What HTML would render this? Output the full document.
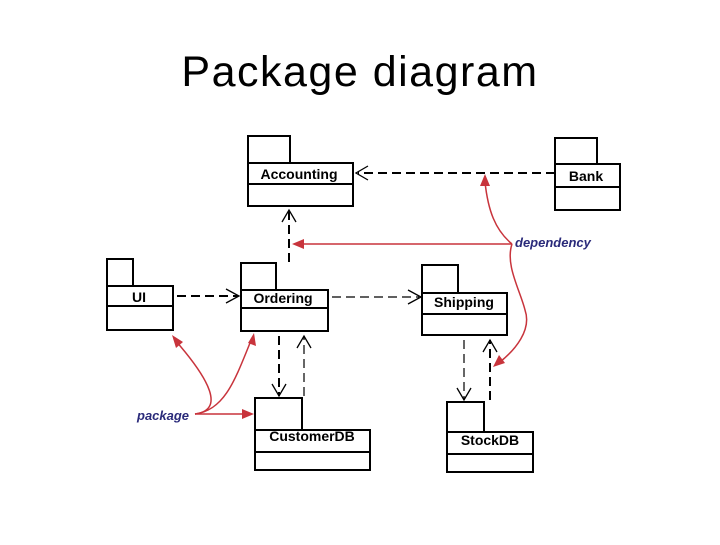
<!DOCTYPE html>
<html><head><style>
body{margin:0;background:#fff;width:720px;height:540px;overflow:hidden}
</style></head><body>
<svg width="720" height="540" xmlns="http://www.w3.org/2000/svg" font-family="Liberation Sans, sans-serif">
<text x="360" y="86" text-anchor="middle" font-size="43" letter-spacing="1.5" fill="#000">Package diagram</text>
<g fill="#fff" stroke="#000" stroke-width="2">
<rect x="248" y="136" width="42" height="27"/><rect x="248" y="163" width="105" height="43"/><line x1="248" y1="184" x2="353" y2="184"/>
<rect x="555" y="138" width="42" height="26"/><rect x="555" y="164" width="65" height="46"/><line x1="555" y1="187" x2="620" y2="187"/>
<rect x="107" y="259" width="26" height="27"/><rect x="107" y="286" width="66" height="44"/><line x1="107" y1="306" x2="173" y2="306"/>
<rect x="241" y="263" width="35" height="27"/><rect x="241" y="290" width="87" height="41"/><line x1="241" y1="308" x2="328" y2="308"/>
<rect x="422" y="265" width="36" height="28"/><rect x="422" y="293" width="85" height="42"/><line x1="422" y1="314" x2="507" y2="314"/>
<rect x="255" y="398" width="47" height="32"/><rect x="255" y="430" width="115" height="40"/><line x1="255" y1="452" x2="370" y2="452"/>
<rect x="447" y="402" width="37" height="30"/><rect x="447" y="432" width="86" height="40"/><line x1="447" y1="454" x2="533" y2="454"/>
</g>
<g font-size="14" font-weight="bold" fill="#000" text-anchor="middle">
<text x="299" y="179">Accounting</text>
<text x="586" y="181">Bank</text>
<text x="139" y="302">UI</text>
<text x="283" y="303">Ordering</text>
<text x="464" y="307">Shipping</text>
<text x="312" y="441">CustomerDB</text>
<text x="490" y="445">StockDB</text>
</g>
<g stroke="#000" stroke-width="2" fill="none" stroke-dasharray="9,5">
<line x1="555" y1="173" x2="358" y2="173"/>
<line x1="289" y1="262" x2="289" y2="210"/>
<line x1="177" y1="296" x2="238" y2="296"/>
<line x1="332" y1="297" x2="419" y2="297" stroke-width="1.2"/>
<line x1="279" y1="336" x2="279" y2="396"/>
<line x1="304" y1="396" x2="304" y2="336" stroke-width="1.2"/>
<line x1="464" y1="340" x2="464" y2="400" stroke-width="1.2"/>
<line x1="490" y1="400" x2="490" y2="340"/>
</g>
<g stroke="#000" stroke-width="1.3" fill="none">
<polyline points="368,166 356,173 368,180"/>
<polyline points="282,222 289,210 296,222"/>
<polyline points="226,289 239,296 226,303"/>
<polyline points="408,290 421,297 408,304"/>
<polyline points="272,384 279,396 286,384"/>
<polyline points="297,348 304,336 311,348"/>
<polyline points="457,388 464,400 471,388"/>
<polyline points="483,352 490,340 497,352"/>
</g>
<g stroke="#c8343c" stroke-width="1.5" fill="none">
<path d="M512,244 L300,244"/>
<path d="M512,244 C495,230 488,210 485,182"/>
<path d="M512,244 C505,265 520,290 525,310 C532,330 515,350 500,362"/>
<path d="M195,414 C225,410 210,380 175,340"/>
<path d="M195,414 C225,410 235,380 252,338"/>
<path d="M195,414 L250,414"/>
</g>
<g fill="#c8343c">
<polygon points="292,244 304,239 304,249"/>
<polygon points="485,174 480,186 490,186"/>
<polygon points="493,367 499,355 505,363"/>
<polygon points="172,335 183,342 176,348"/>
<polygon points="254,333 256,346 248,343"/>
<polygon points="254,414 242,409 242,419"/>
</g>
<text x="515" y="247" font-size="13" font-style="italic" font-weight="bold" fill="#2a2a7a">dependency</text>
<text x="137" y="420" font-size="13" font-style="italic" font-weight="bold" fill="#2a2a7a">package</text>
</svg>
</body></html>
